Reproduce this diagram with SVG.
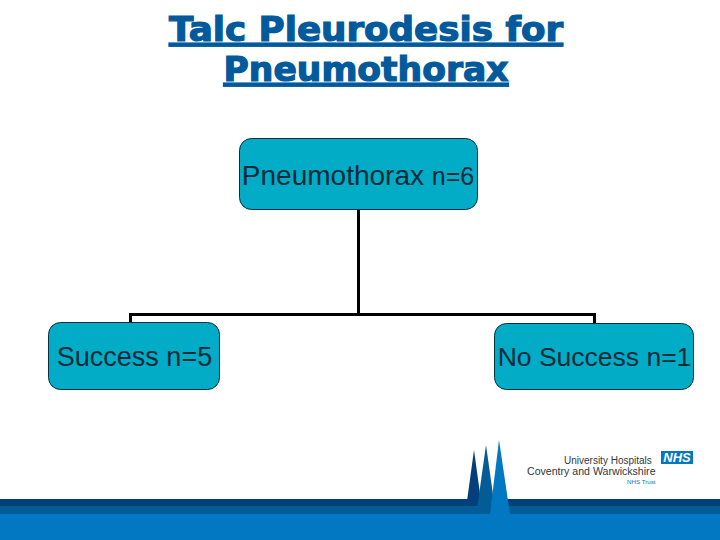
<svg xmlns="http://www.w3.org/2000/svg" width="720" height="540" viewBox="0 0 720 540">
<style>
.box{fill:#02abc6;stroke:#05303f;stroke-width:1}
.lbl{font-family:"Liberation Sans",Arial,sans-serif;font-size:26.500px;fill:#062b3a;text-anchor:middle}
.ttl{font-family:"DejaVu Sans",Verdana,sans-serif;font-weight:bold;font-size:33px;fill:#015a9c;text-anchor:middle;text-decoration:underline;stroke:#015a9c;stroke-width:1.2}
.conn{fill:none;stroke:#000;stroke-width:3}
.lg{font-family:"Liberation Sans",Arial,sans-serif;fill:#33383c}
</style>
<rect width="720" height="540" fill="#fff"/>
<g id="footer">
<rect x="0" y="499" width="720" height="7" fill="#033f7b"/>
<rect x="0" y="506" width="720" height="8" fill="#045c97"/>
<rect x="0" y="514" width="720" height="26" fill="#0277c2"/>
<polygon points="467,501 474,450 481,501" fill="#033f7b"/>
<polygon points="477,509 486,445 495,509 488,514 480,514" fill="#045c97"/>
<polygon points="490,514 499,440 510,514 508,518 492,518" fill="#0277c2"/>
</g>
<g id="logo">
<text class="lg" x="564" y="464" font-size="10">University Hospitals</text>
<text class="lg" x="527" y="475" font-size="10.600">Coventry and Warwickshire</text>
<text x="627" y="484" font-size="6.200" font-family="Liberation Sans,sans-serif" fill="#0277c2">NHS Trust</text>
<rect x="661" y="451" width="32" height="13" fill="#0277c2"/>
<text x="677" y="462" font-size="13" font-weight="bold" font-style="italic" font-family="Liberation Sans,sans-serif" fill="#fff" text-anchor="middle">NHS</text>
</g>
<g id="title">
<text class="ttl" x="366" y="41" textLength="394" lengthAdjust="spacingAndGlyphs">Talc Pleurodesis for</text>
<text class="ttl" x="366" y="81" textLength="285" lengthAdjust="spacingAndGlyphs">Pneumothorax</text>
</g>
<g id="connectors">
<path class="conn" d="M358.500 210V314.500M130.500 323V314.500H594.500V323"/>
</g>
<g id="node-pneumothorax">
<rect class="box" x="239.500" y="138.500" width="238" height="71" rx="12"/>
<text class="lbl" x="358" y="185"><tspan font-size="28">Pneumothorax </tspan><tspan font-size="25">n=6</tspan></text>
</g>
<g id="node-success">
<rect class="box" x="48.500" y="322.500" width="171" height="67" rx="12"/>
<text class="lbl" x="134.500" y="366" font-size="27" style="font-size:27px">Success n=5</text>
</g>
<g id="node-no-success">
<rect class="box" x="494.500" y="323.500" width="199" height="66" rx="12"/>
<text class="lbl" x="594.500" y="366">No Success n=1</text>
</g>
</svg>
